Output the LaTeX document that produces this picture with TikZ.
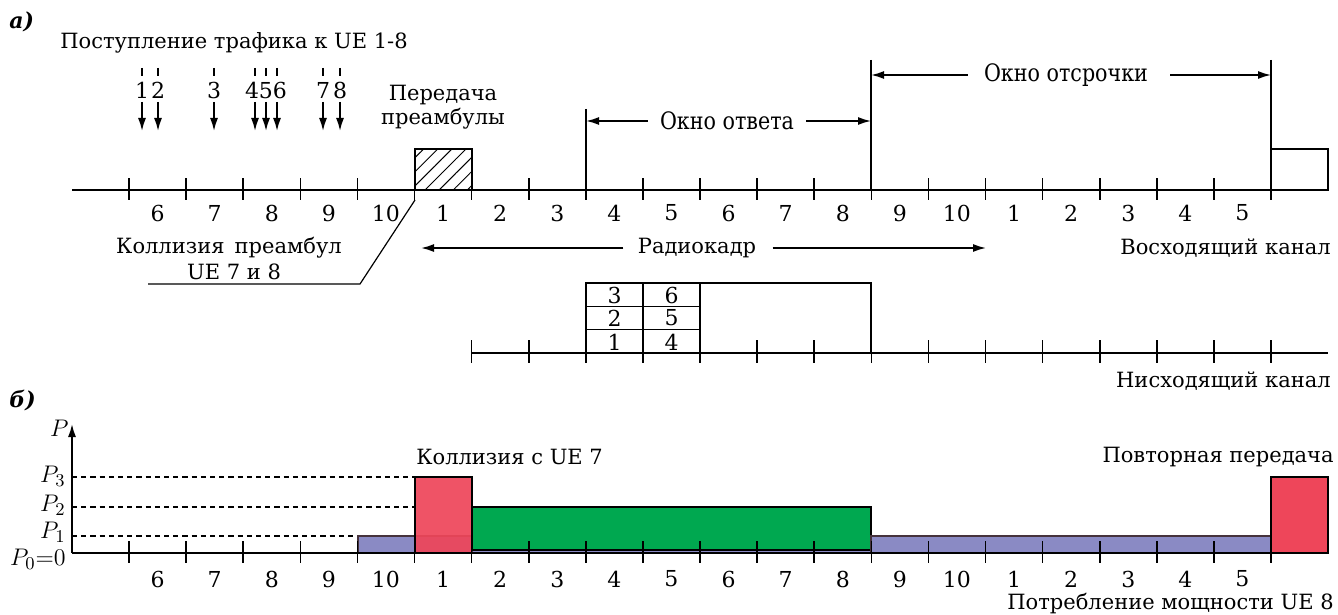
\documentclass[tikz,border=0pt]{standalone}
\usepackage{fontspec}
\setmainfont{DejaVu Serif}
\usetikzlibrary{arrows.meta,patterns.meta}

\definecolor{pwlow}{RGB}{138,138,196}
\definecolor{pwhigh}{RGB}{238,70,90}
\definecolor{pwmid}{RGB}{0,168,80}
\definecolor{edgedark}{RGB}{70,50,60}

\tikzset{
  axisline/.style={line width=1pt},
  tickmark/.style={line width=0.8pt},
  guide/.style={line width=0.6pt},
  arr/.style={-{Latex[length=6.5pt,width=4pt]}, line width=0.85pt},
  lbl/.style={font=\fontsize{10.5}{12}\selectfont, inner sep=0pt},
  digit/.style={font=\fontsize{11}{12}\selectfont, inner sep=0pt},
  narrow/.style={font=\fontsize{12}{14}\selectfont, inner sep=0pt},
  plbl/.style={font=\fontsize{13}{14}\selectfont, inner sep=0pt, anchor=east},
  level/.style={dash pattern=on 2.6pt off 2pt, line width=0.6pt},
  bar/.style={draw=black, line width=0.6pt},
}

\begin{document}
\begin{tikzpicture}[x=0.5pt,y=-0.5pt]
\useasboundingbox (0,0) rectangle (1338,615);

% ---------------- part a ----------------
\node[lbl, font=\fontsize{11}{12}\selectfont\bfseries\itshape, anchor=west] (parta) at (9,22) {а)};
\node[lbl, anchor=west] (arrival) at (60,43) {Поступление трафика к UE 1-8};

% traffic arrival marks
\foreach \xa/\num in {142/1,158/2,214/3,323/7,340/8}{
  \draw[guide] (\xa,68) -- (\xa,76);
  \node[digit] (n\num) at (\xa,90) {\num};
  \coordinate (a\num s) at (\xa,102);
  \coordinate (a\num e) at (\xa,131);
  \draw[arr] (a\num s) -- (a\num e);
}
\node[digit] (n456) at (266,90) {456};
\foreach \xa/\num in {255/4,266/5,277/6}{
  \draw[guide] (\xa,68) -- (\xa,76);
  \coordinate (a\num s) at (\xa,102);
  \coordinate (a\num e) at (\xa,131);
  \draw[arr] (a\num s) -- (a\num e);
}

% uplink axis
\coordinate (ulA) at (72,190);
\coordinate (ulB) at (1328,190);
\draw[axisline] (ulA) -- (ulB);
\foreach \i in {0,...,20}
  \draw[tickmark] ({129+57.1*\i},178) -- ({129+57.1*\i},200);
\foreach \l [count=\i from 0] in {6,7,8,9,10,1,2,3,4,5,6,7,8,9,10,1,2,3,4,5}
  \node[digit] (u\i) at ({129+57.1*(\i+0.5)},213) {\l};

% preamble transmission
\node[lbl, align=center] (pream) at (443,107) {Передача\\преамбулы};
\draw[line width=0.7pt, pattern={Lines[angle=45,distance=5pt,line width=0.5pt]}]
  (415,149) rectangle (472,190);
\draw[line width=0.7pt, fill=white] (1271,149) rectangle (1328,190);

% response window
\coordinate (rw0) at (586,109);
\coordinate (rw1) at (586,190);
\draw[guide] (rw0) -- (rw1);
\node[narrow] (resp) at (727,121) {\scalebox{0.86}[1]{Окно ответа}};
\coordinate (rwL) at (586,121);
\coordinate (rwR) at (871,121);
\draw[arr] (resp.west) ++(-12,0) -- (rwL);
\draw[arr] (resp.east) ++(12,0) -- (rwR);

% back-off window
\coordinate (bw0) at (871,60);
\coordinate (bw1) at (871,190);
\coordinate (bw2) at (1271,60);
\coordinate (bw3) at (1271,190);
\draw[guide] (bw0) -- (bw1);
\draw[guide] (bw2) -- (bw3);
\node[narrow] (backoff) at (1066,75) {\scalebox{0.86}[1]{Окно отсрочки}};
\coordinate (bwL) at (871,75);
\coordinate (bwR) at (1271,75);
\draw[arr] (backoff.west) ++(-16,0) -- (bwL);
\draw[arr] (backoff.east) ++(22,0) -- (bwR);

% collision of preambles
\node[lbl] (coll1) at (229,248) {Коллизия\, преамбул};
\node[lbl] (coll2) at (234,272) {UE 7 и 8};
\coordinate (lead0) at (415,200);
\coordinate (lead1) at (360,284);
\coordinate (lead2) at (148,284);
\draw[guide] (lead0) -- (lead1) -- (lead2);

% radio frame
\node[lbl] (frame) at (697,248) {Радиокадр};
\coordinate (frL) at (421,248);
\coordinate (frR) at (986,248);
\draw[arr] (frame.west) ++(-14,0) -- (frL);
\draw[arr] (frame.east) ++(16,0) -- (frR);

\node[lbl, anchor=east] (uplink) at (1331,248) {Восходящий канал};

% downlink axis
\coordinate (dlA) at (472,353);
\coordinate (dlB) at (1328,353);
\draw[axisline] (dlA) -- (dlB);
\foreach \i in {6,...,20}
  \draw[tickmark] ({129+57.1*\i},340) -- ({129+57.1*\i},363);

% downlink allocations
\foreach \c/\xl in {0/586,1/643}{
  \foreach \r in {0,1,2}{
    \draw[line width=0.7pt] (\xl,{353-23.3*\r}) rectangle ({\xl+57.1},{353-23.3*(\r+1)});
  }
}
\node[digit] (d1) at (614.5,342) {1};
\node[digit] (d2) at (614.5,318) {2};
\node[digit] (d3) at (614.5,295) {3};
\node[digit] (d4) at (671.5,342) {4};
\node[digit] (d5) at (671.5,318) {5};
\node[digit] (d6) at (671.5,295) {6};
\draw[line width=0.7pt] (700,283) -- (871,283) -- (871,353);

\node[lbl, anchor=east] (downlink) at (1331,381) {Нисходящий канал};

% ---------------- part b ----------------
\node[lbl, font=\fontsize{11}{12}\selectfont\bfseries\itshape, anchor=west] (partb) at (9,401) {б)};

\coordinate (pO) at (72,553);
\coordinate (pTop) at (72,424);
\draw[-{Latex[length=6.5pt,width=4pt]}, line width=0.85pt] (pO) -- (pTop);
\node[plbl] (pP) at (69,428) {$P$};
\node[plbl] (p3) at (66,476) {$P_3$};
\node[plbl] (p2) at (66,505) {$P_2$};
\node[plbl] (p1) at (66,532) {$P_1$};
\node[plbl] (p0) at (66,559) {$P_0{=}0$};

\draw[level] (72,477) -- (415,477);
\draw[level] (72,507) -- (415,507);
\draw[level] (72,536) -- (358,536);

% power bars
\draw[bar, fill=pwlow, draw=edgedark] (358,536) rectangle (472,553);
\draw[bar, fill=pwhigh, fill opacity=0.93] (415,477) rectangle (472,553);
\draw[bar, fill=pwlow, draw=edgedark] (472,536) rectangle (871,553);
\draw[bar, fill=pwmid] (472,507) rectangle (871,550);
\draw[bar, fill=pwlow, draw=edgedark] (871,536) rectangle (1271,553);
\draw[bar, fill=pwhigh] (1271,477) rectangle (1328,553);

% power axis
\coordinate (plA) at (72,553);
\coordinate (plB) at (1328,553);
\draw[axisline] (plA) -- (plB);
\foreach \i in {0,...,20}
  \draw[tickmark] ({129+57.1*\i},541) -- ({129+57.1*\i},563);
\foreach \l [count=\i from 0] in {6,7,8,9,10,1,2,3,4,5,6,7,8,9,10,1,2,3,4,5}
  \node[digit] (w\i) at ({129+57.1*(\i+0.5)},579) {\l};

\node[lbl, anchor=west] (collue) at (416,457) {Коллизия с UE 7};
\node[lbl, anchor=east] (retx) at (1334,457) {Повторная передача};
\node[lbl, anchor=east] (consum) at (1334,604) {Потребление мощности UE 8};
\end{tikzpicture}
\end{document}
